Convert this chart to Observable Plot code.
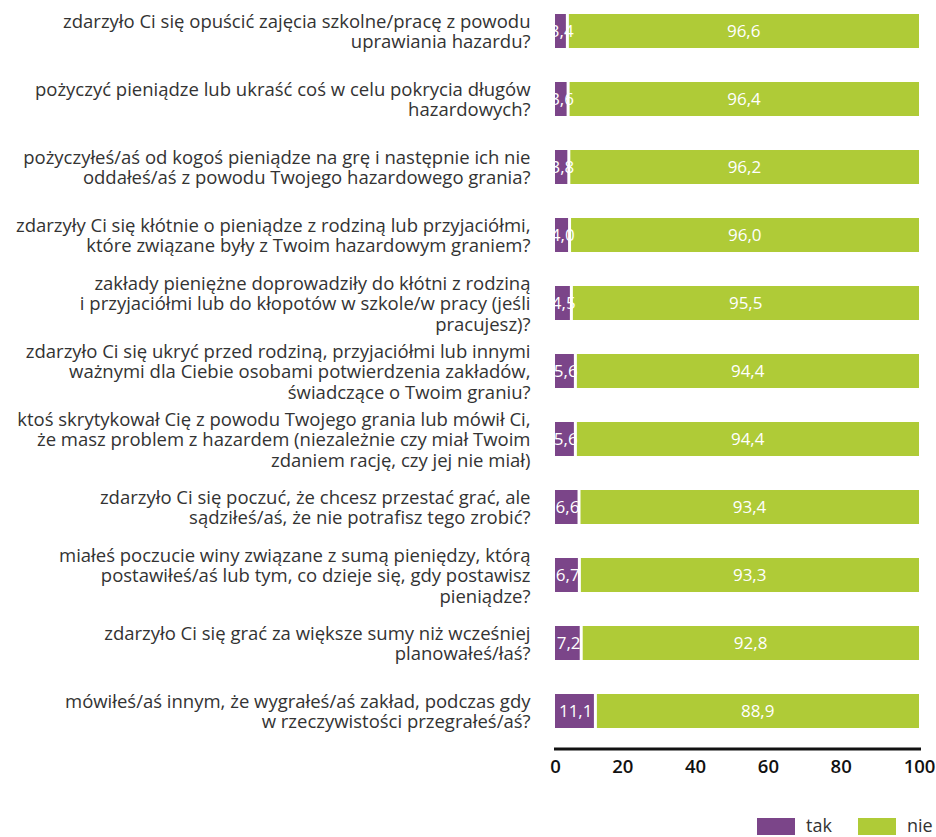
<!DOCTYPE html>
<html><head><meta charset="utf-8">
<script src="https://cdn.jsdelivr.net/npm/d3@7"></script>
<script src="https://cdn.jsdelivr.net/npm/@observablehq/plot@0.6"></script>
<style>
body{margin:0;background:#fff;font-family:"Open Sans",sans-serif;}
#chart svg{display:block;}
#legend{position:relative;height:47px;width:936px;}
.sw{position:absolute;top:28px;width:38px;height:17px;}
.lt{position:absolute;top:24px;font-size:18px;color:#333;line-height:22px;}
</style></head><body><div id="chart"></div><div id="legend"></div>
<script>
const categories = [
  "zdarzyło Ci się opuścić zajęcia szkolne/pracę z powodu\nuprawiania hazardu?",
  "pożyczyć pieniądze lub ukraść coś w celu pokrycia długów\nhazardowych?",
  "pożyczyłeś/aś od kogoś pieniądze na grę i następnie ich nie\noddałeś/aś z powodu Twojego hazardowego grania?",
  "zdarzyły Ci się kłótnie o pieniądze z rodziną lub przyjaciółmi,\nktóre związane były z Twoim hazardowym graniem?",
  "zakłady pieniężne doprowadziły do kłótni z rodziną\ni przyjaciółmi lub do kłopotów w szkole/w pracy (jeśli\npracujesz)?",
  "zdarzyło Ci się ukryć przed rodziną, przyjaciółmi lub innymi\nważnymi dla Ciebie osobami potwierdzenia zakładów,\nświadczące o Twoim graniu?",
  "ktoś skrytykował Cię z powodu Twojego grania lub mówił Ci,\nże masz problem z hazardem (niezależnie czy miał Twoim\nzdaniem rację, czy jej nie miał)",
  "zdarzyło Ci się poczuć, że chcesz przestać grać, ale\nsądziłeś/aś, że nie potrafisz tego zrobić?",
  "miałeś poczucie winy związane z sumą pieniędzy, którą\npostawiłeś/aś lub tym, co dzieje się, gdy postawisz\npieniądze?",
  "zdarzyło Ci się grać za większe sumy niż wcześniej\nplanowałeś/łaś?",
  "mówiłeś/aś innym, że wygrałeś/aś zakład, podczas gdy\nw rzeczywistości przegrałeś/aś?"
];
const takValues = [3.4, 3.6, 3.8, 4.0, 4.5, 5.6, 5.6, 6.6, 6.7, 7.2, 11.1];
const nieValues = [96.6, 96.4, 96.2, 96.0, 95.5, 94.4, 94.4, 93.4, 93.3, 92.8, 88.9];
const xEndTicks = [0, 100];
const xInnerTicks = [20, 40, 60, 80];
const seriesNames = ["tak", "nie"];
const seriesColors = ["#7b4589", "#afcb37"];

const fmt = v => v.toFixed(1).replace(".", ",");
const takRows = categories.map((c, i) => ({cat: c, series: "tak", value: takValues[i], x1: 0, x2: takValues[i]}));
const nieRows = categories.map((c, i) => ({cat: c, series: "nie", value: nieValues[i], x1: takValues[i], x2: takValues[i] + nieValues[i]}));
const allRows = takRows.concat(nieRows);

const tickStyle = {tickSize: 0, tickPadding: 11, fontSize: 18.5, fontWeight: 600, fill: "#111", label: null, tickFormat: d => d};

const chart = Plot.plot({
  width: 936,
  height: 790,
  marginLeft: 555,
  marginRight: 17,
  marginTop: 11,
  marginBottom: 41.5,
  style: {fontFamily: "'Open Sans', sans-serif", fontSize: "16px", color: "#333", background: "#fff"},
  x: {domain: [0, 100]},
  y: {domain: categories, range: [11, 730], paddingInner: 0.5, paddingOuter: 0},
  color: {domain: seriesNames, range: seriesColors},
  marks: [
    Plot.barX(takRows, {x1: "x1", x2: "x2", y: "cat", fill: "series", insetRight: 1.5}),
    Plot.barX(nieRows, {x1: "x1", x2: "x2", y: "cat", fill: "series", insetLeft: 1.5}),
    Plot.text(allRows, {x: d => (d.x1 + d.x2) / 2, y: "cat", text: d => fmt(d.value), fill: "white", fontSize: 17}),
    Plot.frame({anchor: "bottom", stroke: "#111", strokeWidth: 3}),
    Plot.axisX({...tickStyle, ticks: xEndTicks}),
    Plot.axisX({...tickStyle, ticks: xInnerTicks, dx: -5.5}),
    Plot.axisY({tickSize: 0, tickPadding: 25, fontSize: 18.5, lineHeight: 1.11, fill: "#333", label: null})
  ]
});
document.getElementById("chart").appendChild(chart);

const legend = document.getElementById("legend");
const swX = [757, 858];
const txX = [806, 907];
seriesNames.forEach((s, i) => {
  const sw = document.createElement("div");
  sw.className = "sw"; sw.style.left = swX[i] + "px"; sw.style.background = seriesColors[i];
  legend.appendChild(sw);
  const t = document.createElement("div");
  t.className = "lt"; t.style.left = txX[i] + "px"; t.textContent = s;
  legend.appendChild(t);
});
</script></body></html>
